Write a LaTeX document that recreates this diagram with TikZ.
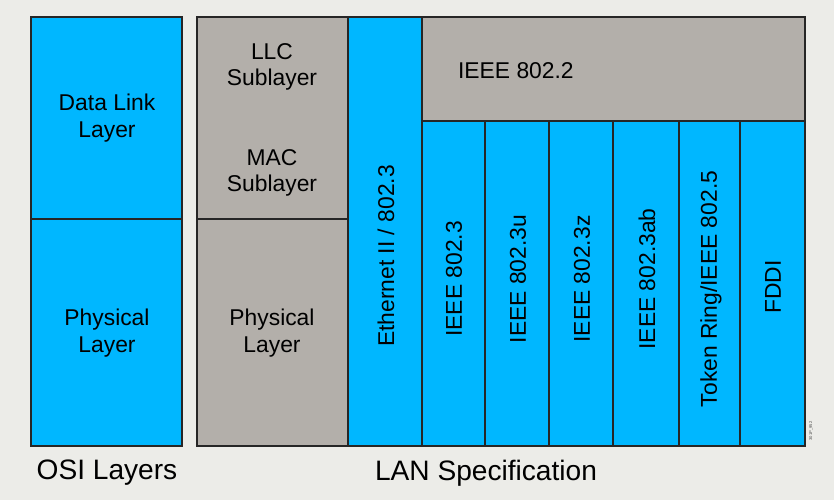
\documentclass[tikz,border=0pt]{standalone}
\usepackage{fontspec}
\setmainfont{Liberation Sans}
\usetikzlibrary{positioning}

\definecolor{lanblue}{RGB}{0,183,255}
\definecolor{langray}{RGB}{179,175,170}
\definecolor{pagebg}{RGB}{236,236,232}

\tikzset{
  bluebox/.style={fill=lanblue,draw=black!85,line width=1pt},
  graybox/.style={fill=langray,draw=black!85,line width=1pt},
  label/.style={align=center,font=\fontsize{19.5}{22.4}\selectfont},
  vlabel/.style={label,rotate=90},
  caption/.style={font=\fontsize{24}{28}\selectfont}
}

\begin{document}
\begin{tikzpicture}[x=0.03cm,y=-0.03cm]
\fill[pagebg] (0,0) rectangle (834,500);
\useasboundingbox (0,0) rectangle (834,500);

% OSI layers
\draw[bluebox] (31,17) rectangle (182,219);
\draw[bluebox] (31,219) rectangle (182,446);

% LAN specification
\draw[graybox] (197,17) rectangle (348,219);
\draw[graybox] (197,219) rectangle (348,446);
\draw[bluebox] (348,17) rectangle (422,446);
\draw[graybox] (422,17) rectangle (805,121);
\draw[bluebox] (422,121) rectangle (485,446);
\draw[bluebox] (485,121) rectangle (549,446);
\draw[bluebox] (549,121) rectangle (613,446);
\draw[bluebox] (613,121) rectangle (679,446);
\draw[bluebox] (679,121) rectangle (740,446);
\draw[bluebox] (740,121) rectangle (805,446);
\draw[line width=1.3pt,black!85] (197,17) rectangle (805,446);

\node[label] (datalink) at (107,118) {Data Link\\Layer};
\node[label] (osiphys) at (107,333) {Physical\\Layer};
\node[label] (llc) at (272,67) {LLC\\Sublayer};
\node[label] (mac) at (272,173) {MAC\\Sublayer};
\node[label] (lanphys) at (272,333) {Physical\\Layer};
\node[vlabel] (ethernet) at (386,256) {Ethernet II / 802.3};
\node[label,anchor=west] (ieee2) at (454,71) {IEEE 802.2};
\node[vlabel] (ieee3) at (454,279) {IEEE 802.3};
\node[vlabel] (ieee3u) at (518,279) {IEEE 802.3u};
\node[vlabel] (ieee3z) at (582,279) {IEEE 802.3z};
\node[vlabel] (ieee3ab) at (647,279) {IEEE 802.3ab};
\node[vlabel] (token) at (711,289) {Token Ring/IEEE 802.5};
\node[vlabel] (fddi) at (773,287) {FDDI};

\node[rotate=90,font=\fontsize{3.5}{4}\selectfont,black!70] (figid) at (811,431) {301P\_952};

\node[caption] (osi) at (107,473) {OSI Layers};
\node[caption] (lan) at (486,473) {LAN Specification};
\end{tikzpicture}
\end{document}
